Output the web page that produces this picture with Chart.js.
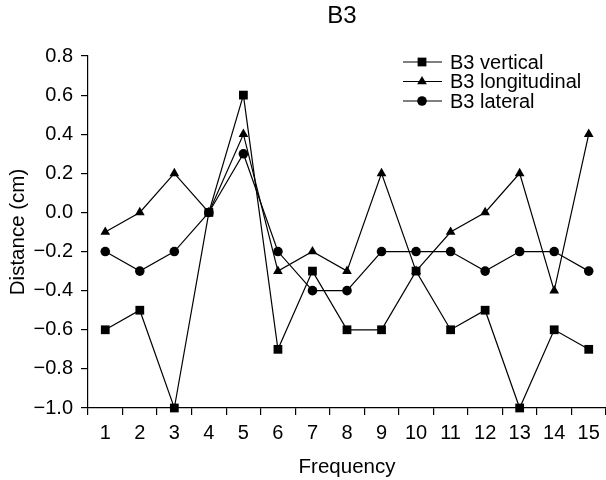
<!DOCTYPE html>
<html>
<head>
<meta charset="utf-8">
<script src="https://cdn.jsdelivr.net/npm/chart.js@4/dist/chart.umd.min.js"></script>
<style>
  html, body { margin: 0; padding: 0; background: #fff; }
  #wrap { width: 606px; height: 480px; }
</style>
</head>
<body>
<div id="wrap"><canvas id="myChart" width="606" height="480"></canvas></div>
<script>
  const categories = ['1','2','3','4','5','6','7','8','9','10','11','12','13','14','15'];
  const verticalValues = [-0.6, -0.5, -1.0, 0.0, 0.6, -0.7, -0.3, -0.6, -0.6, -0.3, -0.6, -0.5, -1.0, -0.6, -0.7];
  const longitudinalValues = [-0.1, 0.0, 0.2, 0.0, 0.4, -0.3, -0.2, -0.3, 0.2, -0.3, -0.1, 0.0, 0.2, -0.4, 0.4];
  const lateralValues = [-0.2, -0.3, -0.2, 0.0, 0.3, -0.2, -0.4, -0.4, -0.2, -0.2, -0.2, -0.3, -0.2, -0.2, -0.3];
  const seriesNames = ['B3 vertical', 'B3 longitudinal', 'B3 lateral'];
  const yMin = -1.0, yMax = 0.8, yStep = 0.2;

  const FONT = 'Liberation Sans, Arial, sans-serif';

  function fmtTick(v) {
    if (Math.abs(v) < 1e-9) return '0.0';
    return (v < 0 ? '\u2212' : '') + Math.abs(v).toFixed(1);
  }

  function makeSet(label, data, style, radius) {
    return {
      label: label,
      data: data,
      borderColor: '#000',
      backgroundColor: '#000',
      borderWidth: 1.2,
      pointStyle: style,
      pointRadius: radius,
      pointHoverRadius: radius,
      pointBorderWidth: 0,
      tension: 0,
      fill: false,
      clip: 10
    };
  }

  // title + legend with line/marker/line symbols
  const extras = {
    id: 'extras',
    afterDraw(chart) {
      const ctx = chart.ctx;
      ctx.save();
      ctx.fillStyle = '#000';
      ctx.font = '24px ' + FONT;
      ctx.textAlign = 'center';
      ctx.textBaseline = 'middle';
      ctx.fillText('B3', 342, 16);

      ctx.font = '20px ' + FONT;
      ctx.textAlign = 'left';
      chart.data.datasets.forEach((ds, i) => {
        const y = 62 + i * 19.5;
        ctx.strokeStyle = '#000';
        ctx.lineWidth = 1.2;
        ctx.beginPath();
        ctx.moveTo(403, y);
        ctx.lineTo(442, y);
        ctx.stroke();
        Chart.helpers.drawPoint(ctx, {
          pointStyle: ds.pointStyle, radius: ds.pointRadius, rotation: 0, borderWidth: 0
        }, 422, y);
        ctx.fillStyle = '#000';
        ctx.fillText(ds.label, 450, y + 1);
      });
      ctx.restore();
    }
  };

  const config = {
    type: 'line',
    data: {
      labels: categories,
      datasets: [
        makeSet(seriesNames[0], verticalValues, 'rect', 6.2),
        makeSet(seriesNames[1], longitudinalValues, 'triangle', 5.6),
        makeSet(seriesNames[2], lateralValues, 'circle', 4.8)
      ]
    },
    options: {
      animation: false,
      responsive: false,
      layout: { autoPadding: false, padding: { top: 56, right: 0, left: 0, bottom: 0 } },
      plugins: {
        legend: { display: false },
        title: { display: false },
        tooltip: { enabled: false }
      },
      scales: {
        x: {
          type: 'category',
          offset: true,
          grid: { offset: true, drawOnChartArea: false, tickLength: 7, color: '#000', lineWidth: 1.2 },
          border: { color: '#000', width: 1.2 },
          ticks: { color: '#000', font: { family: FONT, size: 20 }, padding: 6, maxRotation: 0, autoSkip: false },
          title: { display: true, text: 'Frequency', color: '#000', font: { family: FONT, size: 20.5 }, padding: { top: 4, bottom: 0 } },
          afterFit(scale) { scale.height = 72; scale.paddingRight = 0; scale.paddingLeft = 0; }
        },
        y: {
          min: yMin,
          max: yMax,
          grid: { drawOnChartArea: false, tickLength: 7, color: '#000', lineWidth: 1.2 },
          border: { color: '#000', width: 1.2 },
          ticks: { stepSize: yStep, color: '#000', font: { family: FONT, size: 20 }, padding: 8, callback: fmtTick },
          title: { display: true, text: 'Distance (cm)', color: '#000', font: { family: FONT, size: 20.5 }, padding: { top: 6, bottom: 4 } },
          afterFit(scale) { scale.width = 88; scale.paddingTop = 0; scale.paddingBottom = 0; }
        }
      }
    },
    plugins: [extras]
  };

  let myChart = new Chart(document.getElementById('myChart'), config);
</script>
</body>
</html>
